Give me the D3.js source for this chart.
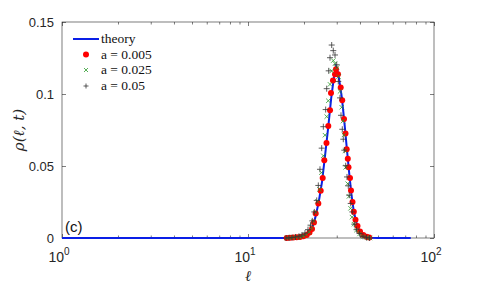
<!DOCTYPE html>
<html>
<head>
<meta charset="utf-8">
<script src="https://cdn.jsdelivr.net/npm/d3@7"></script>
<style>
  body { margin: 0; background: #fff; }
</style>
</head>
<body>
<div id="chart"></div>
<script>
// data
const theoryL = [1, 10, 15, 16, 17, 18, 19, 20, 21, 22, 23, 24, 25, 26, 27, 28, 29, 29.7, 30.5, 31, 32, 33, 34, 35, 36, 37, 38, 39, 40, 42, 44, 46, 50, 75]
const theoryP = [0, 0, 0, 0, 0.0002, 0.0004, 0.0007, 0.0013, 0.0027, 0.0058, 0.014, 0.025, 0.039, 0.058, 0.077, 0.097, 0.112, 0.119, 0.115, 0.109, 0.097, 0.080, 0.062, 0.045, 0.030, 0.019, 0.012, 0.0075, 0.0045, 0.0018, 0.0006, 0.0002, 0, 0]

const redL = [16.15, 16.82, 17.52, 18.27, 19.04, 19.83, 20.69, 21.41, 22.09, 22.63, 23.12, 23.88, 24.60, 25.21, 25.72, 26.42, 27.02, 27.60, 27.94, 28.64, 29.36, 29.72, 30.47, 31.51, 32.10, 32.82, 33.44, 33.93, 34.40, 34.70, 35.35, 35.79, 36.46, 37.06, 37.84, 38.79, 40.01, 41.68, 43.47, 44.90]
const redP = [0, 0.0001, 0.0003, 0.0005, 0.0007, 0.0012, 0.0021, 0.0038, 0.0062, 0.0108, 0.017, 0.0239, 0.0328, 0.0416, 0.054, 0.0659, 0.0778, 0.0888, 0.1007, 0.1093, 0.1138, 0.1172, 0.1138, 0.1046, 0.0957, 0.0826, 0.0726, 0.0617, 0.0551, 0.0491, 0.0416, 0.033, 0.025, 0.0182, 0.0127, 0.0083, 0.0045, 0.0021, 0.0008, 0.0003]

const greenL = [16.21, 16.82, 17.46, 18.23, 19.04, 19.75, 20.50, 21.28, 21.95, 22.50, 23.06, 23.64, 24.24, 24.79, 25.41, 25.94, 26.49, 27.02, 27.60, 28.18, 28.74, 29.36, 30.09, 30.66, 31.23, 31.90, 32.42, 32.82, 33.22, 33.51, 34.36, 34.91, 35.58, 36.24, 37.15, 38.31, 39.77, 41.52, 43.63, 45.28]
const greenP = [0, 0.0001, 0.0003, 0.0005, 0.0008, 0.0014, 0.0024, 0.0041, 0.0069, 0.0117, 0.0179, 0.0255, 0.0337, 0.0454, 0.0571, 0.0714, 0.0843, 0.0953, 0.1067, 0.116, 0.1232, 0.1211, 0.1183, 0.1121, 0.1018, 0.0908, 0.0812, 0.0716, 0.0606, 0.0491, 0.0377, 0.0289, 0.0206, 0.0145, 0.0096, 0.0055, 0.0028, 0.001, 0.0003, 0]

const blackL = [16.01, 16.61, 17.24, 18.01, 18.80, 19.51, 20.25, 21.02, 21.68, 22.17, 22.73, 23.41, 23.88, 24.38, 24.90, 25.41, 26.16, 26.49, 27.16, 27.60, 28.18, 28.74, 29.36, 29.98, 30.58, 31.23, 31.62, 32.14, 32.54, 32.94, 33.51, 34.06, 34.61, 35.04, 35.66, 36.37, 37.28, 38.31, 39.77, 41.52, 43.36, 44.99]
const blackP = [0, 0.0001, 0.0003, 0.0007, 0.0012, 0.0021, 0.0034, 0.0058, 0.0089, 0.0119, 0.0181, 0.0261, 0.0365, 0.0477, 0.0624, 0.0773, 0.0892, 0.1037, 0.1161, 0.1252, 0.134, 0.1301, 0.1271, 0.1203, 0.1087, 0.0973, 0.0852, 0.0755, 0.0686, 0.061, 0.0502, 0.0424, 0.0362, 0.0297, 0.024, 0.0181, 0.0096, 0.0058, 0.0031, 0.0012, 0.0003, 0]

const yTicks = [0, 0.05, 0.1, 0.15]
const yTickLabels = ['0', '0.05', '0.1', '0.15']
const xMajor = [1, 10, 100]
const xExp = ['0', '1', '2']
const legendLabels = ['theory', 'a = 0.005', 'a = 0.025', 'a = 0.05']

const W = 480, H = 288
const mLeft = 62, mRight = 434, mTop = 22, mBottom = 238
const sans = '"Liberation Sans", Arial, sans-serif'
const serif = '"Liberation Serif", "Times New Roman", serif'

const svg = d3.select('#chart').append('svg')
  .attr('width', W).attr('height', H)

const x = d3.scaleLog().domain([1, 100]).range([mLeft, mRight])
const y = d3.scaleLinear().domain([0, 0.15]).range([mBottom, mTop])

// minor ticks 2..9 per decade
const xMinor = []
for (let d = 1; d < 100; d *= 10) {
  for (let k = 2; k <= 9; k++) xMinor.push(k * d)
}

const axisCol = '#262626'

function styleAxis(g) {
  g.select('.domain').remove()
  g.selectAll('line').attr('stroke', axisCol).attr('stroke-width', 0.6)
}

// bottom / top
svg.append('g').attr('transform', `translate(0,${mBottom})`)
  .call(d3.axisBottom(x).tickValues(xMajor).tickSize(-4).tickFormat(''))
  .call(styleAxis)
svg.append('g').attr('transform', `translate(0,${mBottom})`)
  .call(d3.axisBottom(x).tickValues(xMinor).tickSize(-2.5).tickFormat(''))
  .call(styleAxis)
svg.append('g').attr('transform', `translate(0,${mTop})`)
  .call(d3.axisTop(x).tickValues(xMajor).tickSize(-4).tickFormat(''))
  .call(styleAxis)
svg.append('g').attr('transform', `translate(0,${mTop})`)
  .call(d3.axisTop(x).tickValues(xMinor).tickSize(-2.5).tickFormat(''))
  .call(styleAxis)

// left / right
const yl = svg.append('g').attr('transform', `translate(${mLeft},0)`)
  .call(d3.axisLeft(y).tickValues(yTicks).tickSize(-4).tickPadding(8)
    .tickFormat((d, i) => yTickLabels[i]))
  .call(styleAxis)
yl.selectAll('text').attr('font-size', 13).attr('fill', axisCol)
  .attr('font-family', sans)
svg.append('g').attr('transform', `translate(${mRight},0)`)
  .call(d3.axisRight(y).tickValues(yTicks).tickSize(-4).tickFormat(''))
  .call(styleAxis)

// x tick labels with superscripts
const xl = svg.append('g')
xMajor.forEach((v, i) => {
  const t = xl.append('text')
    .attr('x', x(v) - 3).attr('y', 262)
    .attr('text-anchor', 'middle')
    .attr('font-family', sans)
    .attr('font-size', 14).attr('fill', axisCol)
  t.append('tspan').text('10')
  t.append('tspan').attr('dy', -7).attr('font-size', 10).text(xExp[i])
})

// box
svg.append('rect')
  .attr('x', mLeft).attr('y', mTop)
  .attr('width', mRight - mLeft).attr('height', mBottom - mTop)
  .attr('fill', 'none').attr('stroke', axisCol).attr('stroke-width', 0.6)

// axis labels
svg.append('text')
  .attr('transform', `translate(24,${(mTop + mBottom) / 2}) rotate(-90)`)
  .attr('text-anchor', 'middle')
  .attr('font-family', '"DejaVu Serif", serif')
  .attr('font-style', 'italic').attr('font-size', 15).attr('fill', axisCol)
  .text('ρ(ℓ, t)')
svg.append('text')
  .attr('x', (mLeft + mRight) / 2).attr('y', 281)
  .attr('text-anchor', 'middle')
  .attr('font-family', '"DejaVu Serif", serif')
  .attr('font-style', 'italic').attr('font-size', 15).attr('fill', axisCol)
  .text('ℓ')

// (c)
svg.append('text')
  .attr('x', 65).attr('y', 232)
  .attr('font-family', sans)
  .attr('font-size', 15).attr('fill', '#111')
  .text('(c)')

const toPts = (L, P) => L.map((l, i) => [l, P[i]])

// theory curve
const line = d3.line().x(d => x(d[0])).y(d => y(d[1]))
svg.append('path')
  .datum(toPts(theoryL, theoryP))
  .attr('d', line)
  .attr('fill', 'none').attr('stroke', '#0a1fe6').attr('stroke-width', 2)

// red dots
svg.append('g').selectAll('circle')
  .data(toPts(redL, redP)).join('circle')
  .attr('cx', d => x(d[0])).attr('cy', d => y(d[1]))
  .attr('r', 3).attr('fill', '#ff0000')

// green x
svg.append('g').selectAll('path')
  .data(toPts(greenL, greenP)).join('path')
  .attr('transform', d => `translate(${x(d[0])},${y(d[1])})`)
  .attr('d', 'M-2.2,-2.2L2.2,2.2M-2.2,2.2L2.2,-2.2')
  .attr('fill', 'none').attr('stroke', '#2a9a2a').attr('stroke-width', 0.8)

// black +
svg.append('g').selectAll('path')
  .data(toPts(blackL, blackP)).join('path')
  .attr('transform', d => `translate(${x(d[0])},${y(d[1])})`)
  .attr('d', 'M-3,0H3M0,-3V3')
  .attr('fill', 'none').attr('stroke', '#333').attr('stroke-width', 0.8)

// legend
const lg = svg.append('g')
const rowY = [39, 54.5, 70, 86]
lg.append('line').attr('x1', 73).attr('x2', 99).attr('y1', rowY[0]).attr('y2', rowY[0])
  .attr('stroke', '#0a1fe6').attr('stroke-width', 2)
lg.append('circle').attr('cx', 86).attr('cy', rowY[1]).attr('r', 3).attr('fill', '#ff0000')
lg.append('path').attr('transform', `translate(86,${rowY[2]})`)
  .attr('d', 'M-2,-2L2,2M-2,2L2,-2').attr('stroke', '#2a9a2a').attr('stroke-width', 0.8)
lg.append('path').attr('transform', `translate(86,${rowY[3]})`)
  .attr('d', 'M-2.5,0H2.5M0,-2.5V2.5').attr('stroke', '#333').attr('stroke-width', 0.8)
legendLabels.forEach((s, i) => {
  lg.append('text').attr('x', 101).attr('y', rowY[i] + 4)
    .attr('font-family', serif).attr('font-size', 13.5).attr('fill', '#111')
    .text(s)
})
</script>
</body>
</html>
